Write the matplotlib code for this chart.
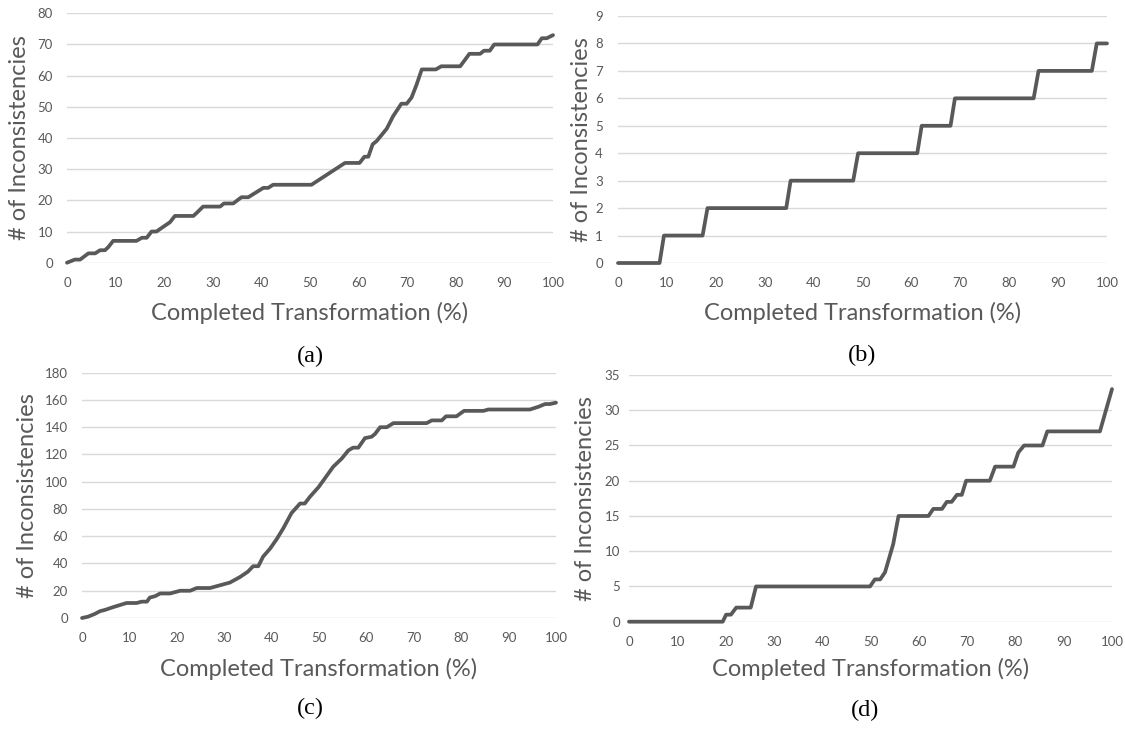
import matplotlib
matplotlib.use("Agg")
import matplotlib.pyplot as plt

FIG_W, FIG_H = 1125, 730

plt.rcParams['font.family'] = ['Lato', 'DejaVu Sans']

# (a)
a_pct = [0, 1.6, 2.7, 4.4, 5.8, 6.8, 7.8, 8.5, 9.5, 14.3, 15.4, 16.4, 17.4, 18.4, 21.2,
         22.2, 26, 26.7, 28, 31.5, 32.3, 34.2, 35.9, 37.3, 40.4, 41.4, 42.4, 50.3, 57.2,
         60.2, 61.2, 62, 62.9, 63.7, 65.8, 67.1, 68.8, 69.9, 70.9, 71.9, 73, 75.9, 77,
         80.9, 82.8, 85, 85.8, 87, 87.9, 96.8, 97.7, 98.7, 100]
a_cnt = [0, 1, 1, 3, 3, 4, 4, 5, 7, 7, 8, 8, 10, 10, 13,
         15, 15, 16, 18, 18, 19, 19, 21, 21, 24, 24, 25, 25, 32,
         32, 34, 34, 38, 39, 43, 47, 51, 51, 53, 57, 62, 62, 63,
         63, 67, 67, 68, 68, 70, 70, 72, 72, 73]

# (b)
b_pct = [0, 8.5, 9.4, 17.3, 18.3, 34.4, 35.3, 48.1, 49.1, 61.2, 62.1, 68, 68.9, 85, 86,
         96.9, 97.9, 100]
b_cnt = [0, 0, 1, 1, 2, 2, 3, 3, 4, 4, 5, 5, 6, 6, 7, 7, 8, 8]

# (c)
c_pct = [0, 1.3, 2.7, 3.8, 4.9, 6.6, 9.4, 11.5, 12.6, 13.7, 14.3, 15.4, 16.5, 18.6, 20.7,
         22.8, 24.2, 27, 29.1, 31.2, 33.3, 35, 36.1, 37.2, 38.2, 39.7, 41.1, 42.5, 44.2,
         46, 47, 48.1, 49.9, 53, 54.8, 56.2, 57.2, 58.3, 59.7, 61.1, 61.8, 62.9, 64.3,
         65.7, 72.7, 73.8, 75.9, 76.8, 79, 80.6, 84.7, 85.7, 94.5, 96.3, 97.7, 98.7, 100]
c_cnt = [0, 1, 3, 5, 6, 8, 11, 11, 12, 12, 15, 16, 18, 18, 20,
         20, 22, 22, 24, 26, 30, 34, 38, 38, 45, 51, 58, 66, 77,
         84, 84, 89, 96, 111, 117, 123, 125, 125, 132, 133, 135, 140, 140,
         143, 143, 145, 145, 148, 148, 152, 152, 153, 153, 155, 157, 157, 158]

# (d)
d_pct = [0, 19.4, 20.1, 21.1, 22.2, 25.2, 26.3, 49.9, 50.9, 52, 53, 54.7, 55.8, 62, 63,
         64.8, 65.8, 66.8, 67.9, 68.9, 69.8, 74.7, 75.8, 79.6, 80.6, 81.8, 85.6, 86.6,
         97.5, 100]
d_cnt = [0, 0, 1, 1, 2, 2, 5, 5, 6, 6, 7, 11, 15, 15, 16,
         16, 17, 17, 18, 18, 20, 20, 22, 22, 24, 25, 25, 27,
         27, 33]

x_ticks = list(range(0, 101, 10))
captions = ["(a)", "(b)", "(c)", "(d)"]

LINE = '#595959'
GRID = '#d9d9d9'
TEXT = '#595959'


def add_panel(fig, pct, cnt, ymax, ystep, box, ylab_x, xlab_y, ytick_pad, caption, cap_xy):
    left, top, right, bottom = box
    ax = fig.add_axes([left / FIG_W, 1 - bottom / FIG_H,
                       (right - left) / FIG_W, (bottom - top) / FIG_H])
    ax.plot(pct, cnt, color=LINE, linewidth=2.7, solid_joinstyle='round',
            solid_capstyle='round', clip_on=False, zorder=3)
    ax.set_xlim(0, 100)
    ax.set_ylim(0, ymax)
    ax.set_xticks(x_ticks)
    ax.set_yticks(list(range(0, ymax + 1, ystep)))
    ax.grid(True, axis='y', color=GRID, linewidth=1.0)
    ax.set_axisbelow(True)
    for s in ax.spines.values():
        s.set_visible(False)
    ax.tick_params(axis='both', length=0, labelsize=9.5, labelcolor=TEXT)
    ax.tick_params(axis='y', pad=ytick_pad * 0.72)
    ax.tick_params(axis='x', pad=10)
    ax.set_xlabel('Completed Transformation (%)', fontsize=17, color=TEXT, va='center')
    ax.set_ylabel('# of Inconsistencies', fontsize=17, color=TEXT, va='center')
    w = right - left
    h = bottom - top
    ax.xaxis.set_label_coords(0.5, (bottom - xlab_y) / h)
    ax.yaxis.set_label_coords((ylab_x - left) / w, 0.5)
    fig.text(cap_xy[0] / FIG_W, 1 - cap_xy[1] / FIG_H, caption, ha='center', va='center',
             fontsize=17.5, family=['Liberation Serif', 'DejaVu Serif'], color='black')
    return ax


def main() -> None:
    fig = plt.figure(figsize=(FIG_W / 100, FIG_H / 100), dpi=100)
    add_panel(fig, a_pct, a_cnt, 80, 10, (67, 13.3, 553, 262.7), 20, 313, 14,
              captions[0], (310, 356))
    add_panel(fig, b_pct, b_cnt, 9, 1, (618, 16, 1107, 263), 582, 313, 15,
              captions[1], (862, 355))
    add_panel(fig, c_pct, c_cnt, 180, 20, (82, 372.7, 556, 618), 28, 669, 14,
              captions[2], (310, 708))
    add_panel(fig, d_pct, d_cnt, 35, 5, (629, 375, 1112, 621.7), 585, 669, 9,
              captions[3], (865, 710))
    fig.savefig('out.png', dpi=100, facecolor='white')


if __name__ == '__main__':
    main()
